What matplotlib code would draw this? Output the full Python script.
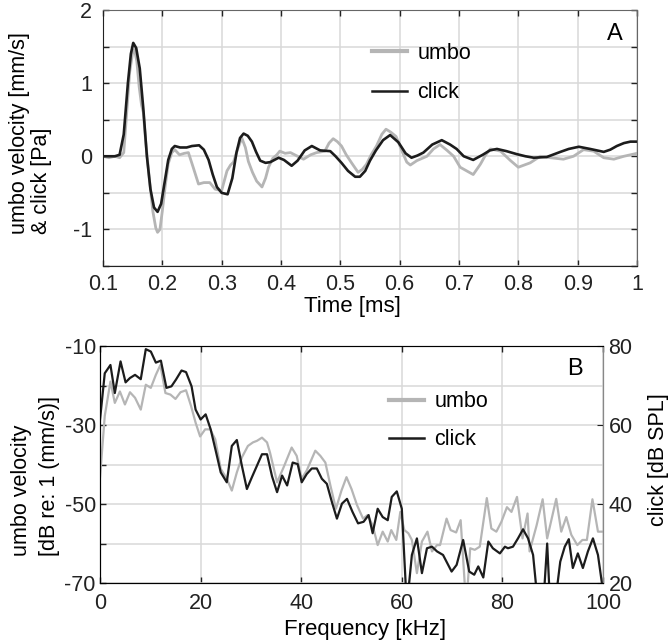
import matplotlib
matplotlib.use("Agg")
import matplotlib.pyplot as plt
from matplotlib.lines import Line2D
from matplotlib.ticker import MultipleLocator

# ---- panel A: time signals ----
click_t = [0.100, 0.120, 0.128, 0.135, 0.142, 0.147, 0.151, 0.156, 0.162, 0.168,
           0.174, 0.180, 0.186, 0.192, 0.198, 0.204, 0.210, 0.216, 0.221, 0.230,
           0.241, 0.250, 0.262, 0.270, 0.278, 0.285, 0.292, 0.300, 0.310, 0.318,
           0.325, 0.331, 0.337, 0.344, 0.351, 0.358, 0.365, 0.374, 0.382, 0.396,
           0.405, 0.418, 0.428, 0.440, 0.452, 0.466, 0.483, 0.492, 0.502, 0.513,
           0.525, 0.533, 0.542, 0.550, 0.560, 0.572, 0.584, 0.598, 0.610, 0.620,
           0.630, 0.640, 0.655, 0.671, 0.685, 0.696, 0.708, 0.724, 0.740, 0.752,
           0.764, 0.780, 0.797, 0.812, 0.826, 0.848, 0.871, 0.885, 0.902, 0.921,
           0.944, 0.955, 0.966, 0.978, 0.989, 1.000]
click_v = [0.0, 0.0, 0.02, 0.3, 1.0, 1.4, 1.55, 1.48, 1.2, 0.65,
           0.0, -0.45, -0.7, -0.76, -0.65, -0.35, -0.05, 0.1, 0.14, 0.12,
           0.12, 0.14, 0.15, 0.09, -0.05, -0.25, -0.42, -0.5, -0.52, -0.3,
           0.05, 0.25, 0.31, 0.28, 0.2, 0.06, -0.06, -0.09, -0.08, -0.02,
           -0.05, -0.13, -0.06, 0.08, 0.14, 0.08, 0.07, 0.0, -0.09, -0.2,
           -0.28, -0.28, -0.2, -0.06, 0.08, 0.22, 0.29, 0.19, 0.04, -0.02,
           0.01, 0.05, 0.16, 0.22, 0.16, 0.1, 0.0, -0.05, 0.02, 0.08,
           0.1, 0.07, 0.03, 0.0, -0.02, -0.01, 0.06, 0.1, 0.13, 0.1,
           0.06, 0.09, 0.14, 0.18, 0.2, 0.2]

umbo_t = [0.100, 0.110, 0.120, 0.128, 0.135, 0.140, 0.145, 0.150, 0.153, 0.157,
          0.161, 0.165, 0.168, 0.172, 0.178, 0.184, 0.189, 0.192, 0.196, 0.200,
          0.205, 0.210, 0.216, 0.221, 0.229, 0.237, 0.244, 0.252, 0.261, 0.270,
          0.280, 0.289, 0.300, 0.309, 0.315, 0.320, 0.327, 0.334, 0.340, 0.345,
          0.352, 0.359, 0.368, 0.374, 0.379, 0.386, 0.393, 0.398, 0.407, 0.416,
          0.428, 0.438, 0.450, 0.460, 0.474, 0.481, 0.488, 0.495, 0.502, 0.510,
          0.519, 0.530, 0.537, 0.544, 0.552, 0.561, 0.570, 0.577, 0.585, 0.594,
          0.605, 0.612, 0.618, 0.629, 0.646, 0.657, 0.668, 0.680, 0.691, 0.702,
          0.713, 0.724, 0.730, 0.736, 0.745, 0.753, 0.770, 0.787, 0.800, 0.810,
          0.820, 0.837, 0.854, 0.876, 0.893, 0.910, 0.927, 0.944, 0.961, 0.978,
          1.000]
umbo_v = [0.0, -0.02, 0.0, -0.02, 0.05, 0.6, 1.15, 1.42, 1.46, 1.3,
          0.95, 0.7, 0.6, 0.2, -0.3, -0.75, -0.98, -1.04, -1.0, -0.75,
          -0.4, -0.1, 0.05, 0.09, 0.02, 0.04, 0.05, -0.15, -0.38, -0.36,
          -0.36, -0.45, -0.47, -0.2, -0.12, -0.08, 0.1, 0.25, 0.12, -0.07,
          -0.22, -0.34, -0.42, -0.3, -0.15, -0.03, 0.02, 0.07, 0.04, 0.05,
          0.0, -0.04, 0.02, 0.05, 0.07, 0.18, 0.24, 0.2, 0.14, 0.02,
          -0.09, -0.22, -0.18, -0.11, 0.02, 0.14, 0.3, 0.37, 0.33, 0.27,
          0.05, -0.08, -0.12, -0.06, 0.0, 0.1, 0.16, 0.08, 0.0, -0.15,
          -0.2, -0.25, -0.18, -0.11, 0.02, 0.1, 0.07, -0.06, -0.15, -0.12,
          -0.09, 0.0, -0.02, -0.04, 0.0, 0.09, 0.07, -0.02, -0.04, 0.0,
          0.04]

# ---- panel B: spectra ----
click_f = [0, 0.94, 2.07, 2.94, 4.08, 5.08, 5.95, 6.96, 8.1, 9.1,
           10.1, 11.1, 12.1, 13.2, 14.2, 15.1, 16.2, 17.1, 18.2, 19.0,
           20.0, 21.0, 22.0, 23.0, 24.0, 25.2, 26.2, 27.2, 28.2, 29.2,
           30.2, 31.2, 32.2, 33.2, 34.2, 35.2, 36.2, 37.2, 38.3, 39.3,
           40.1, 41.1, 42.1, 43.1, 44.1, 45.1, 46.1, 47.1, 48.1, 49.1,
           50.2, 51.3, 52.4, 53.4, 54.2, 55.2, 56.2, 57.2, 58.0, 59.0,
           60.0, 61.0, 62.0, 63.0, 64.0, 65.0, 66.0, 67.0, 68.2, 69.9,
           70.9, 72.2, 73.4, 74.4, 75.2, 76.2, 77.2, 78.1, 79.5, 80.5,
           81.1, 82.1, 83.1, 84.1, 85.1, 86.1, 87.1, 88.1, 88.9, 89.5,
           90.4, 91.5, 92.4, 93.2, 94.0, 95.0, 96.0, 97.0, 98.0, 99.0,
           100.0]
click_db = [-28.6, -16.9, -14.8, -21.9, -13.9, -19.2, -18.1, -17.3, -18.4, -10.8,
            -11.4, -14.2, -13.7, -20.6, -20.2, -18.5, -16.2, -16.6, -20.2, -26.1,
            -28.6, -27.3, -31.1, -36.5, -42.0, -44.5, -35.3, -33.8, -40.3, -46.2,
            -43.2, -40.3, -37.4, -37.4, -43.0, -47.0, -42.8, -45.3, -39.5, -39.9,
            -44.5, -42.4, -41.0, -41.0, -43.6, -44.9, -49.5, -53.7, -49.9, -48.7,
            -52.0, -54.9, -54.5, -52.8, -57.4, -51.2, -53.3, -54.1, -48.2, -46.8,
            -51.2, -76.0, -62.9, -58.7, -67.5, -61.2, -60.8, -62.0, -62.9, -67.1,
            -65.4, -59.1, -67.1, -67.9, -65.8, -68.6, -59.5, -61.2, -62.5, -60.8,
            -61.2, -60.8, -58.7, -56.4, -58.7, -62.9, -76.0, -76.0, -60.0, -76.0,
            -76.0, -64.6, -60.8, -58.9, -66.2, -62.5, -66.2, -62.0, -58.7, -62.9,
            -72.0]

umbo_f = [0, 0.94, 2.07, 2.94, 3.95, 4.95, 5.95, 6.96, 8.1, 9.1,
          10.1, 11.1, 12.0, 13.0, 14.0, 15.0, 16.0, 17.1, 18.1, 19.0,
          19.9, 20.9, 21.9, 22.9, 24.0, 25.2, 26.2, 27.2, 28.2, 29.4,
          30.4, 31.2, 32.2, 33.2, 33.8, 35.2, 36.5, 38.1, 39.1, 40.1,
          41.1, 42.8, 43.8, 44.8, 45.8, 46.9, 48.0, 49.0, 50.0, 51.1,
          52.3, 53.2, 54.2, 55.2, 56.2, 57.2, 57.9, 58.9, 59.7, 60.5,
          61.3, 62.0, 63.0, 64.0, 65.1, 66.0, 67.0, 67.6, 68.9, 69.7,
          70.8, 71.7, 72.8, 73.6, 74.5, 75.5, 76.9, 77.8, 78.8, 79.8,
          80.9, 81.8, 82.9, 84.0, 85.0, 85.4, 86.8, 88.0, 88.9, 90.7,
          91.7, 92.7, 93.7, 94.9, 95.9, 96.8, 97.9, 99.0, 100.0]
umbo_db = [-43.2, -27.7, -19.0, -24.4, -21.5, -24.8, -21.7, -23.1, -26.1, -19.8,
           -20.6, -17.3, -14.8, -21.9, -22.3, -23.4, -21.7, -21.2, -25.2, -29.4,
           -32.9, -31.1, -31.1, -33.6, -41.1, -43.6, -46.6, -42.0, -38.2, -35.3,
           -34.4, -34.0, -33.2, -34.4, -37.0, -44.5, -40.7, -35.7, -37.8, -43.6,
           -41.5, -36.5, -37.8, -39.5, -45.3, -51.2, -46.6, -43.2, -46.2, -50.3,
           -53.7, -52.8, -55.4, -60.4, -57.0, -59.5, -56.6, -59.1, -52.0, -56.6,
           -57.4, -59.1, -67.5, -59.5, -57.0, -62.0, -60.4, -60.4, -53.7, -56.6,
           -57.2, -54.1, -76.0, -61.2, -61.6, -60.8, -48.5, -56.2, -57.0, -54.5,
           -50.8, -52.0, -48.2, -58.7, -52.4, -62.0, -55.4, -48.8, -58.7, -48.7,
           -57.0, -53.3, -57.8, -60.4, -59.1, -59.1, -48.8, -57.0, -57.0]

GRAY = "#b5b5b5"
BLACK = "#1c1c1c"
GRID = "#d9d9d9"
plt.rcParams["font.family"] = ["Liberation Sans", "DejaVu Sans"]
plt.rcParams["axes.unicode_minus"] = False


def style_axes(ax):
    ax.grid(True, which="both", color=GRID, lw=1.1)
    ax.set_axisbelow(True)
    ax.tick_params(which="both", direction="in", length=4, width=1,
                   top=True, right=True, labelsize=15.5, colors="#222222")
    for s in ["left", "bottom"]:
        ax.spines[s].set_color("#222222")
    for s in ["top", "right"]:
        ax.spines[s].set_color("#666666")


fig = plt.figure(figsize=(6.7, 6.44), dpi=100)

# panel A
axA = fig.add_axes([0.1537, 0.587, 0.797, 0.3975])
axA.plot(umbo_t, umbo_v, color=GRAY, lw=2.0)
axA.plot(click_t, click_v, color=BLACK, lw=1.9)
axA.set_xlim(0.1, 1.0)
axA.set_ylim(-1.5, 2)
axA.set_xticks([0.1, 0.2, 0.3, 0.4, 0.5, 0.6, 0.7, 0.8, 0.9, 1.0])
axA.set_xticklabels(["0.1", "0.2", "0.3", "0.4", "0.5", "0.6", "0.7", "0.8", "0.9", "1"])
axA.set_yticks([-1, 0, 1, 2])
axA.yaxis.set_minor_locator(MultipleLocator(0.5))
style_axes(axA)
axA.tick_params(axis="x", pad=6)
axA.tick_params(axis="y", pad=8)
axA.set_xlabel("Time [ms]", fontsize=16)
axA.xaxis.set_label_coords(0.468, -0.118)
axA.set_ylabel("umbo velocity [mm/s]\n& click [Pa]", fontsize=15.5,
               multialignment="left", linespacing=1.05)
axA.yaxis.set_label_coords(-0.095, 0.52)
axA.text(0.958, 0.905, "A", transform=axA.transAxes, fontsize=17,
         ha="center", va="center")
hA = [Line2D([], [], color=GRAY, lw=3), Line2D([], [], color=BLACK, lw=1.8)]
axA.legend(hA, ["umbo", "click"], loc="upper left", bbox_to_anchor=(0.504, 0.872),
           frameon=False, fontsize=15.5, borderpad=0, borderaxespad=0,
           handlelength=1.6, handletextpad=0.5, labelspacing=0.85)

# panel B
axB = fig.add_axes([0.1493, 0.0947, 0.7507, 0.368])
axB.plot(umbo_f, umbo_db, color=GRAY, lw=1.6)
axB.plot(click_f, click_db, color=BLACK, lw=1.6)
axB.set_xlim(0, 100)
axB.set_ylim(-70, -10)
axB.set_xticks([0, 20, 40, 60, 80, 100])
axB.set_yticks([-70, -50, -30, -10])
axB.yaxis.set_minor_locator(MultipleLocator(10))
style_axes(axB)
axB.tick_params(axis="x", pad=7)
axB.tick_params(axis="y", pad=3, right=False)
axB.set_xlabel("Frequency [kHz]", fontsize=16)
axB.xaxis.set_label_coords(0.527, -0.15)
axB.set_ylabel("umbo velocity\n[dB re: 1 (mm/s)]", fontsize=15.5,
               multialignment="left", linespacing=1.45)
axB.yaxis.set_label_coords(-0.08, 0.45)
axB.text(0.944, 0.905, "B", transform=axB.transAxes, fontsize=17,
         ha="center", va="center")
hB = [Line2D([], [], color=GRAY, lw=3), Line2D([], [], color=BLACK, lw=1.8)]
axB.legend(hB, ["umbo", "click"], loc="upper left", bbox_to_anchor=(0.575, 0.81),
           frameon=False, fontsize=15.5, borderpad=0, borderaxespad=0,
           handlelength=1.6, handletextpad=0.5, labelspacing=0.8)

axR = axB.twinx()
axR.set_ylim(20, 80)
axR.set_yticks([20, 40, 60, 80])
axR.tick_params(direction="in", length=4, labelsize=15.5, pad=4, colors="#222222")
axR.spines["right"].set_color("#888888")
axR.set_ylabel("click [dB SPL]", fontsize=15.5)
axR.yaxis.set_label_coords(1.09, 0.52)

fig.savefig("out.png", dpi=100)
